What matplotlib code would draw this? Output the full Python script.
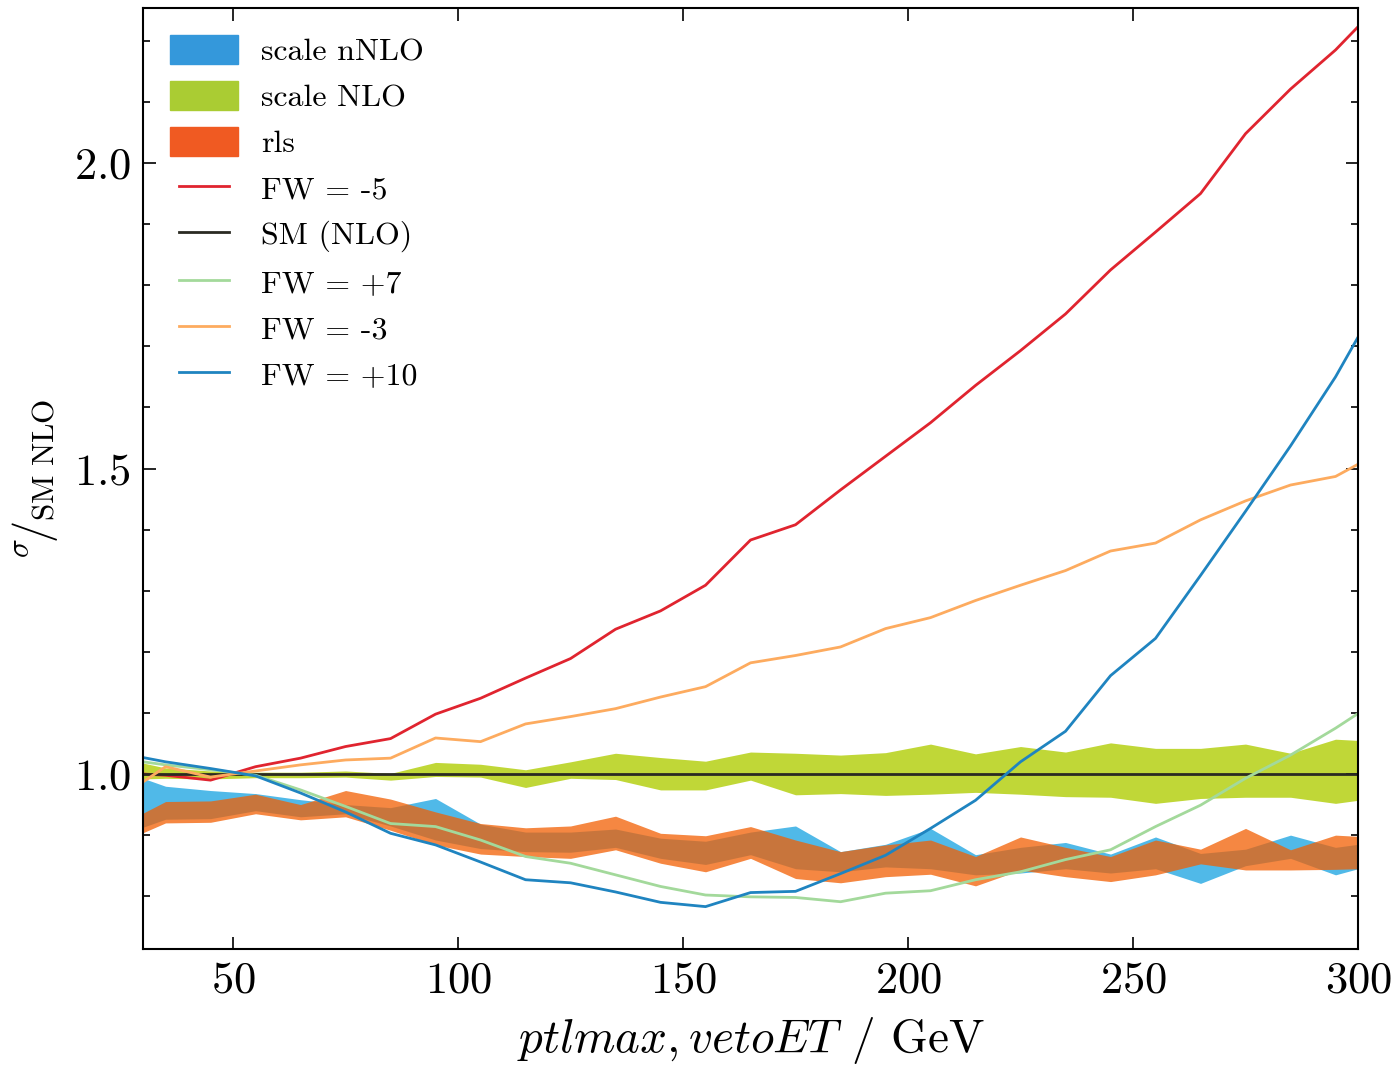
import numpy as np
import matplotlib
matplotlib.use("Agg")
import matplotlib.pyplot as plt
from matplotlib.patches import Patch
from matplotlib.lines import Line2D
from matplotlib.legend_handler import HandlerLine2D

plt.rcParams['font.family'] = 'serif'
plt.rcParams['font.serif'] = ['cmr10']
plt.rcParams['mathtext.fontset'] = 'cm'
plt.rcParams['axes.formatter.use_mathtext'] = True

# bin centres (GeV), with the plot edges
pt = [30, 35, 45, 55, 65, 75, 85, 95, 105, 115, 125, 135, 145, 155, 165,
      175, 185, 195, 205, 215, 225, 235, 245, 255, 265, 275, 285, 295, 300]

# ratios to SM NLO
fw_m5 = [1.000, 0.998, 0.990, 1.012, 1.026, 1.045, 1.058, 1.098, 1.124, 1.157,
         1.189, 1.237, 1.267, 1.309, 1.383, 1.408, 1.465, 1.520, 1.575, 1.636,
         1.693, 1.753, 1.825, 1.887, 1.950, 2.048, 2.121, 2.185, 2.223]
fw_m3 = [0.987, 1.012, 0.995, 1.005, 1.015, 1.023, 1.026, 1.059, 1.053, 1.082,
         1.094, 1.107, 1.126, 1.143, 1.182, 1.194, 1.208, 1.238, 1.256, 1.284,
         1.309, 1.333, 1.365, 1.378, 1.416, 1.447, 1.473, 1.487, 1.507]
fw_p10 = [1.027, 1.020, 1.009, 0.997, 0.969, 0.938, 0.903, 0.884, 0.856, 0.827,
          0.822, 0.807, 0.790, 0.783, 0.806, 0.808, 0.837, 0.867, 0.911, 0.957,
          1.020, 1.070, 1.161, 1.222, 1.325, 1.430, 1.537, 1.650, 1.715]
fw_p7 = [1.020, 1.015, 1.007, 0.998, 0.974, 0.947, 0.919, 0.914, 0.892, 0.865,
         0.854, 0.835, 0.816, 0.802, 0.799, 0.798, 0.791, 0.805, 0.809, 0.827,
         0.840, 0.860, 0.876, 0.914, 0.949, 0.993, 1.031, 1.075, 1.099]
sm_nlo = [1.0] * len(pt)

# bands
nlo_up = [1.018, 1.010, 1.005, 1.003, 1.003, 1.005, 1.001, 1.019, 1.016, 1.007,
          1.020, 1.034, 1.027, 1.021, 1.036, 1.034, 1.031, 1.035, 1.049, 1.033,
          1.045, 1.036, 1.051, 1.042, 1.042, 1.049, 1.034, 1.057, 1.055]
nlo_lo = [0.992, 0.993, 0.992, 0.994, 0.994, 0.995, 0.990, 0.996, 0.995, 0.978,
          0.993, 0.991, 0.974, 0.974, 0.990, 0.966, 0.968, 0.965, 0.967, 0.970,
          0.967, 0.963, 0.962, 0.952, 0.960, 0.962, 0.962, 0.952, 0.957]
nnlo_up = [0.993, 0.980, 0.973, 0.968, 0.958, 0.950, 0.945, 0.960, 0.918, 0.905,
           0.905, 0.910, 0.895, 0.890, 0.905, 0.915, 0.873, 0.885, 0.911, 0.868,
           0.880, 0.888, 0.869, 0.897, 0.870, 0.877, 0.900, 0.880, 0.885]
nnlo_lo = [0.913, 0.926, 0.927, 0.940, 0.930, 0.935, 0.915, 0.892, 0.878, 0.873,
           0.872, 0.880, 0.862, 0.852, 0.868, 0.845, 0.840, 0.848, 0.845, 0.835,
           0.838, 0.845, 0.838, 0.845, 0.821, 0.850, 0.862, 0.835, 0.845]
rls_up = [0.936, 0.955, 0.956, 0.967, 0.950, 0.973, 0.959, 0.938, 0.919, 0.912,
          0.915, 0.931, 0.903, 0.899, 0.914, 0.892, 0.873, 0.884, 0.892, 0.865,
          0.897, 0.880, 0.865, 0.892, 0.877, 0.911, 0.876, 0.900, 0.898]
rls_lo = [0.904, 0.920, 0.921, 0.935, 0.925, 0.930, 0.908, 0.884, 0.869, 0.865,
          0.862, 0.876, 0.854, 0.840, 0.862, 0.829, 0.822, 0.832, 0.836, 0.817,
          0.843, 0.832, 0.824, 0.835, 0.853, 0.843, 0.843, 0.844, 0.845]

c_red = '#e0242f'
c_black = '#2a2a22'
c_green = '#a3d99b'
c_orange = '#fdab5f'
c_blue = '#1f84c0'


class ShortLine(HandlerLine2D):
    # line handles drawn a bit shorter than the patch handles
    def get_xdata(self, legend, xdescent, ydescent, width, height, fontsize):
        x0 = -xdescent + 0.13 * width
        x1 = -xdescent + 0.86 * width
        return np.array([x0, x1]), np.array([x0, x1])


fig = plt.figure(figsize=(13.97, 10.68), dpi=100)
ax = fig.add_axes([0.1024, 0.1114, 0.8697, 0.8811])

ax.fill_between(pt, nlo_lo, nlo_up, color='#c0d737', lw=0)
ax.fill_between(pt, nnlo_lo, nnlo_up, color='#50b9e8', lw=0)
ax.fill_between(pt, rls_lo, rls_up, color='#f25f02', alpha=0.75, lw=0)

ax.plot(pt, fw_m5, color=c_red, lw=2.0)
ax.plot(pt, sm_nlo, color=c_black, lw=2.0)
ax.plot(pt, fw_p7, color=c_green, lw=2.0)
ax.plot(pt, fw_m3, color=c_orange, lw=2.0)
ax.plot(pt, fw_p10, color=c_blue, lw=2.0)

line_handles = [Line2D([], [], color=c, lw=2)
                for c in [c_red, c_black, c_green, c_orange, c_blue]]
handles = [Patch(color='#3498db'), Patch(color='#aacc33'),
           Patch(color='#f05a22')] + line_handles
labels = ['scale nNLO', 'scale NLO', 'rls', 'FW = -5', 'SM (NLO)',
          'FW = +7', 'FW = -3', 'FW = +10']
ax.legend(handles, labels, loc='upper left', frameon=False, fontsize=23,
          handlelength=2.13, handleheight=1.0, labelspacing=0.46,
          borderaxespad=0.45, handletextpad=0.72,
          handler_map={h: ShortLine() for h in line_handles})

ax.set_xlim(30, 300)
ax.set_ylim(0.7136, 2.2537)
ax.set_xticks([50, 100, 150, 200, 250, 300])
ax.set_yticks([1.0, 1.5, 2.0])
ax.set_yticks(np.arange(0.8, 2.25, 0.1), minor=True)
ax.tick_params(which='both', direction='in', top=True, right=True,
               labelsize=32, width=1.2)
ax.tick_params(which='major', length=9, pad=9)
ax.tick_params(which='minor', length=5)
for s in ax.spines.values():
    s.set_linewidth(1.5)

ax.set_xlabel(r'$ptlmax, vetoET$ / GeV', fontsize=34, labelpad=10)
ax.set_ylabel(r'${}^{\sigma}\!/_{\mathrm{SM\ NLO}}$', fontsize=32, labelpad=10)

fig.savefig('out.png', dpi=100)
